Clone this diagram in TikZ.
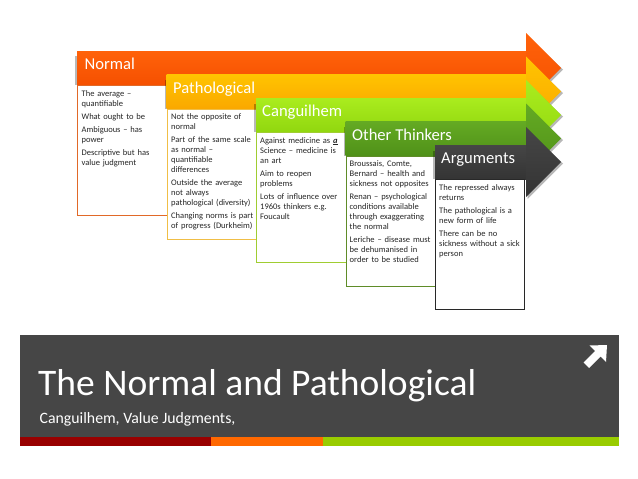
\documentclass[tikz,border=0pt]{standalone}
\usepackage{fontspec}
\setmainfont{Carlito}
\definecolor{cNa}{RGB}{255,98,10}
\definecolor{cNb}{RGB}{245,80,0}
\definecolor{cNbox}{RGB}{225,105,40}
\definecolor{cPa}{RGB}{255,196,0}
\definecolor{cPb}{RGB}{250,168,0}
\definecolor{cPbox}{RGB}{240,190,70}
\definecolor{cCa}{RGB}{170,236,30}
\definecolor{cCb}{RGB}{145,215,15}
\definecolor{cCbox}{RGB}{160,205,50}
\definecolor{cOa}{RGB}{100,170,35}
\definecolor{cOb}{RGB}{80,145,25}
\definecolor{cObox}{RGB}{95,140,40}
\definecolor{cAa}{RGB}{70,70,70}
\definecolor{cAb}{RGB}{52,52,52}
\definecolor{cAbox}{RGB}{40,40,40}
\definecolor{panel}{RGB}{70,70,70}
\definecolor{stripred}{RGB}{153,0,0}
\definecolor{striporange}{RGB}{255,104,0}
\definecolor{stripgreen}{RGB}{153,204,0}
\tikzset{
  hdrtext/.style={anchor=base west,inner sep=0pt,text=white,font=\fontsize{16.6}{18}\selectfont},
  bodytext/.style={anchor=north west,inner sep=0pt,text width=86pt,align=left,
    font=\fontsize{8.5}{10}\selectfont,text=black!85},
  boxnode/.style={anchor=north west,inner sep=0pt,minimum width=89.5pt,minimum height=130pt,
    fill=white,line width=0.8pt},
  shadowfill/.style={fill=black,opacity=0.28},
}
\begin{document}
\begin{tikzpicture}[x=1pt,y=-1pt]
\useasboundingbox (0,0) rectangle (638,479);
% ---------- level 0: Normal ----------
\fill[shadowfill] (527.5,36) -- (563,69.5) -- (527.5,105) -- cycle;
\fill[shadowfill] (75,56) rectangle (77,85);
\shade[top color=cNa,bottom color=cNb] (77,51) rectangle (526.5,85);
\shade[top color=cNa,bottom color=cNb] (526,33) -- (561,68) -- (526,103) -- cycle;
\node[hdrtext] (hN) at (84.5,69) {Normal};
\node[boxnode,draw=cNbox] (bN) at (77,85) {};
\node[bodytext] (tN) at ([shift={(4.5,5)}]bN.north west) {The average –\\quantifiable\\[3pt]What ought to be\\[3pt]Ambiguous – has\\power\\[3pt]Descriptive but has\\value judgment};
% ---------- level 1: Pathological ----------
\fill[shadowfill] (527.5,59.5) -- (563,93) -- (527.5,128.5) -- cycle;
\fill[shadowfill] (164.5,80) rectangle (166.5,108.5);
\shade[top color=cPa,bottom color=cPb] (166.5,74.5) rectangle (526.5,108.5);
\shade[top color=cPa,bottom color=cPb] (526,56.5) -- (561,91.5) -- (526,126.5) -- cycle;
\node[hdrtext] (hP) at (173,93) {Pathological};
\node[boxnode,draw=cPbox] (bP) at (166.5,108.5) {};
\node[bodytext] (tP) at ([shift={(4.5,5)}]bP.north west) {Not the opposite of\\normal\\[3pt]Part of the same scale\\as normal –\\quantifiable\\differences\\[3pt]Outside the average\\not always\\pathological (diversity)\\[3pt]Changing norms is part\\of progress (Durkheim)};
% ---------- level 2: Canguilhem ----------
\fill[shadowfill] (527.5,83) -- (563,116.5) -- (527.5,152) -- cycle;
\fill[shadowfill] (254,103.5) rectangle (256,132);
\shade[top color=cCa,bottom color=cCb] (256,98) rectangle (526.5,132);
\shade[top color=cCa,bottom color=cCb] (526,80) -- (561,115) -- (526,150) -- cycle;
\node[hdrtext] (hC) at (262,116.5) {Canguilhem};
\node[boxnode,draw=cCbox] (bC) at (256,132) {};
\node[bodytext] (tC) at ([shift={(4,5)}]bC.north west) {Against medicine as \underline{\textbf{\textit{a}}}\\Science – medicine is\\an art\\[3pt]Aim to reopen\\problems\\[3pt]Lots of influence over\\1960s thinkers e.g.\\Foucault};
% ---------- level 3: Other Thinkers ----------
\fill[shadowfill] (527.5,106.5) -- (563,140) -- (527.5,175.5) -- cycle;
\fill[shadowfill] (343.5,127) rectangle (345.5,155.5);
\shade[top color=cOa,bottom color=cOb] (345.5,121.5) rectangle (526.5,155.5);
\shade[top color=cOa,bottom color=cOb] (526,103.5) -- (561,138.5) -- (526,173.5) -- cycle;
\node[hdrtext] (hO) at (352,140) {Other Thinkers};
\node[boxnode,draw=cObox] (bO) at (345.5,155.5) {};
\node[bodytext] (tO) at ([shift={(4,5)}]bO.north west) {Broussais, Comte,\\Bernard – health and\\sickness not opposites\\[3pt]Renan – psychological\\conditions available\\through exaggerating\\the normal\\[3pt]Leriche – disease must\\be dehumanised in\\order to be studied};
% ---------- level 4: Arguments ----------
\fill[shadowfill] (527.5,130) -- (563,163.5) -- (527.5,199) -- cycle;
\fill[shadowfill] (433,150.5) rectangle (435,179);
\shade[top color=cAa,bottom color=cAb] (435,145) rectangle (526.5,179);
\shade[top color=cAa,bottom color=cAb] (526,127) -- (561,162) -- (526,197) -- cycle;
\node[hdrtext] (hA) at (441,163.5) {Arguments};
\node[boxnode,draw=cAbox,minimum width=89pt] (bA) at (435,179) {};
\node[bodytext] (tA) at ([shift={(4,5)}]bA.north west) {The repressed always\\returns\\[3pt]The pathological is a\\new form of life\\[3pt]There can be no\\sickness without a sick\\person};
% ---------- title panel ----------
\fill[panel] (20,335) rectangle (619,437);
\fill[stripred] (20,437) rectangle (211,446);
\fill[striporange] (211,437) rectangle (323,446);
\fill[stripgreen] (323,437) rectangle (619,446);
\node[anchor=base west,inner sep=0pt,text=white,font=\fontsize{37.5}{42}\selectfont] (title) at (38,395) {The Normal and Pathological};
\node[anchor=base west,inner sep=0pt,text=white,font=\fontsize{15.8}{18}\selectfont] (subtitle) at (39.5,423) {Canguilhem, Value Judgments,};
\fill[white] (607,345) -- (606,362) -- (600.5,356.5) -- (589,368) -- (583.5,362.5) -- (595,351) -- (589.5,345.5) -- cycle;
\end{tikzpicture}
\end{document}
